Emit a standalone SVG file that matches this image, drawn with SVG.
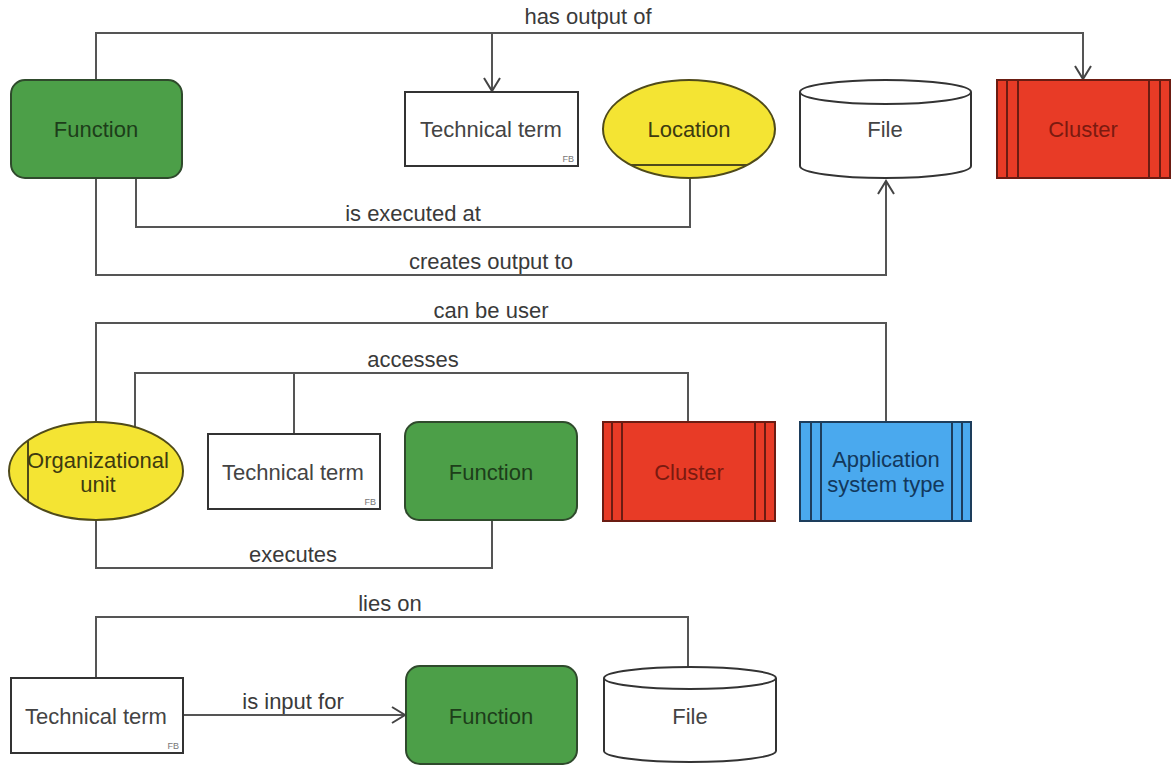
<svg xmlns="http://www.w3.org/2000/svg" width="1173" height="767" viewBox="0 0 1173 767">
<style>
text{font-family:"Liberation Sans",Arial,sans-serif;font-size:22px;text-anchor:middle}
.lbl{fill:#3a3a3a}
.fn rect{fill:#4c9f48;stroke:#2f4a2c;stroke-width:2}
.fn text{fill:#1d3d1a}
.tt rect{fill:#fff;stroke:#333;stroke-width:2}
.tt text{fill:#444}
.tt .fb{font-size:9px;fill:#777;text-anchor:end}
.yel ellipse,.yel line{stroke:#4f4a1a;stroke-width:2}
.yel ellipse{fill:#f4e433}
.yel text{fill:#3d3a10}
.file path,.file ellipse{fill:#fff;stroke:#333;stroke-width:2}
.file text{fill:#444}
.cl rect{fill:#e83b26;stroke:#6b1c12;stroke-width:2}
.cl line{stroke:#6b1c12;stroke-width:2}
.cl text{fill:#7a1a10}
.ast rect{fill:#4aa9ee;stroke:#1d3d5c;stroke-width:2}
.ast line{stroke:#1d3d5c;stroke-width:2}
.ast text{fill:#12385c}
#connectors path{fill:none;stroke:#555;stroke-width:2}
</style>
<defs>
<marker id="arr" markerWidth="16" markerHeight="20" refX="14" refY="10" orient="auto" markerUnits="userSpaceOnUse">
<path d="M1,2 L14,10 L1,18" fill="none" stroke="#444" stroke-width="2"/>
</marker>
</defs>

<g id="connectors">
<path d="M96,80 V33 H1083 V79" marker-end="url(#arr)"/>
<path d="M492,33 V91" marker-end="url(#arr)"/>
<path d="M136,178 V227 H690 V178"/>
<path d="M96,178 V275 H886 V181" marker-end="url(#arr)"/>
<path d="M96,422 V323 H886 V422"/>
<path d="M135,427 V373 H688 V422"/>
<path d="M294,373 V434"/>
<path d="M96,520 V568 H492 V520"/>
<path d="M96,678 V617 H688 V667"/>
<path d="M183,715 H405" marker-end="url(#arr)"/>
</g>

<g id="labels" class="lbl">
<text class="lbl" x="588" y="24">has output of</text>
<text class="lbl" x="413" y="221">is executed at</text>
<text class="lbl" x="491" y="269">creates output to</text>
<text class="lbl" x="491" y="318">can be user</text>
<text class="lbl" x="413" y="367">accesses</text>
<text class="lbl" x="293" y="562">executes</text>
<text class="lbl" x="293" y="709">is input for</text>
<text class="lbl" x="390" y="611">lies on</text>
</g>

<g id="function1" class="fn">
<rect x="11" y="80" width="171" height="98" rx="14"/>
<text x="96" y="137">Function</text>
</g>
<g id="techterm1" class="tt">
<rect x="405" y="92" width="173" height="74"/>
<text x="491" y="137">Technical term</text>
<text class="fb" x="574" y="162">FB</text>
</g>
<g id="location" class="yel">
<ellipse cx="689" cy="129" rx="86" ry="49"/>
<line x1="631" y1="165" x2="747" y2="165"/>
<text x="689" y="137">Location</text>
</g>
<g id="file1" class="file">
<path d="M800,92 V166 A85.5,12 0 0 0 971,166 V92"/>
<ellipse cx="885.5" cy="92" rx="85.5" ry="12"/>
<text x="885" y="137">File</text>
</g>
<g id="cluster1" class="cl">
<rect x="997" y="80" width="173" height="98"/>
<line x1="1007" y1="80" x2="1007" y2="178"/>
<line x1="1018" y1="80" x2="1018" y2="178"/>
<line x1="1149" y1="80" x2="1149" y2="178"/>
<line x1="1160" y1="80" x2="1160" y2="178"/>
<text x="1083" y="137">Cluster</text>
</g>

<g id="orgunit" class="yel">
<ellipse cx="96" cy="471" rx="87" ry="49"/>
<line x1="28" y1="440" x2="28" y2="502"/>
<text x="98" y="468">Organizational</text>
<text x="98" y="492">unit</text>
</g>
<g id="techterm2" class="tt">
<rect x="208" y="434" width="172" height="75"/>
<text x="293" y="480">Technical term</text>
<text class="fb" x="376" y="505">FB</text>
</g>
<g id="function2" class="fn">
<rect x="405" y="422" width="172" height="98" rx="14"/>
<text x="491" y="480">Function</text>
</g>
<g id="cluster2" class="cl">
<rect x="603" y="422" width="172" height="99"/>
<line x1="612" y1="422" x2="612" y2="521"/>
<line x1="622" y1="422" x2="622" y2="521"/>
<line x1="755" y1="422" x2="755" y2="521"/>
<line x1="765" y1="422" x2="765" y2="521"/>
<text x="689" y="480">Cluster</text>
</g>
<g id="appsystype" class="ast">
<rect x="800" y="422" width="171" height="99"/>
<line x1="811" y1="422" x2="811" y2="521"/>
<line x1="821" y1="422" x2="821" y2="521"/>
<line x1="952" y1="422" x2="952" y2="521"/>
<line x1="962" y1="422" x2="962" y2="521"/>
<text x="886" y="467">Application</text>
<text x="886" y="492">system type</text>
</g>

<g id="techterm3" class="tt">
<rect x="11" y="678" width="172" height="75"/>
<text x="96" y="724">Technical term</text>
<text class="fb" x="179" y="749">FB</text>
</g>
<g id="function3" class="fn">
<rect x="406" y="666" width="171" height="98" rx="14"/>
<text x="491" y="724">Function</text>
</g>
<g id="file3" class="file">
<path d="M604,678 V751 A86,11 0 0 0 776,751 V678"/>
<ellipse cx="690" cy="678" rx="86" ry="11"/>
<text x="690" y="724">File</text>
</g>
</svg>
